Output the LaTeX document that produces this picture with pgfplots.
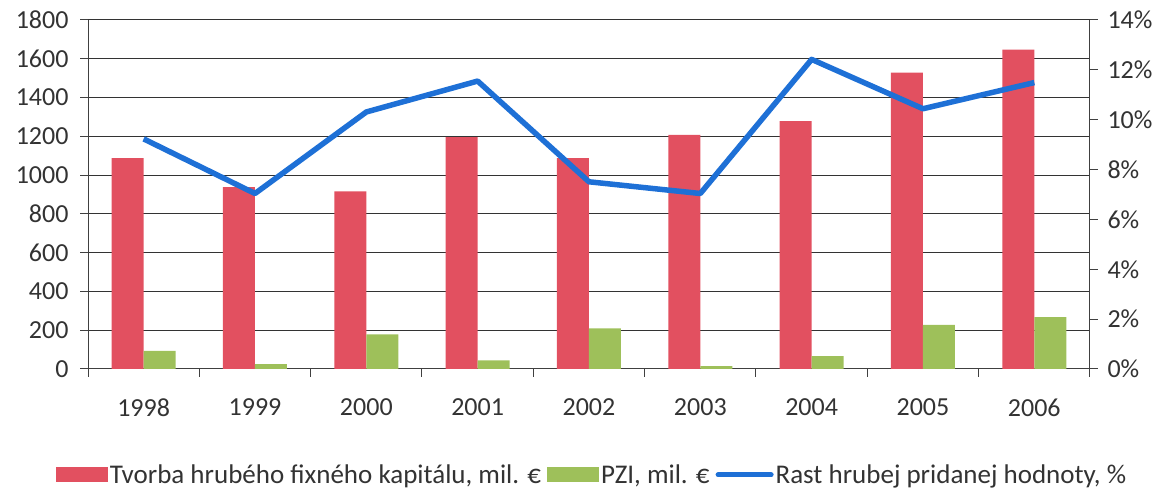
\documentclass[border=0pt]{standalone}
\usepackage{pgfplots}
\pgfplotsset{compat=1.18}
\usepackage{fontspec}
\setmainfont{Carlito}
\definecolor{barred}{RGB}{226,80,96}
\definecolor{bargreen}{RGB}{158,192,90}
\definecolor{lineblue}{RGB}{30,112,214}
\begin{document}
\begin{tikzpicture}
\path[use as bounding box] (0pt,0pt) rectangle (1164pt,492pt);
\begin{axis}[
  at={(88pt,123pt)}, anchor=south west,
  scale only axis, width=1002pt, height=349pt,
  xmin=-0.5, xmax=8.5, ymin=0, ymax=1800,
  ytick={0,200,...,1800},
  xtick={0,...,8},
  xticklabels={1998,1999,2000,2001,2002,2003,2004,2005,2006},
  minor xtick={-0.5,0.5,...,8.5},
  major x tick style={draw=none},
  minor tick length=8pt, major tick length=8pt,
  tick align=outside,
  axis x line*=bottom, axis y line*=left,
  axis line style={black!75, line width=1pt},
  every tick/.style={black!75, line width=1pt},
  ymajorgrids, grid style={black!80, line width=1pt},
  /pgf/number format/1000 sep={},
  /pgf/number format/assume math mode=true,
  tick label style={font=\fontsize{26}{30}\selectfont, text=black!80},
  yticklabel style={xshift=-8pt},
  xticklabel style={yshift=-18pt},
  ybar, bar width=32pt,
  legend style={at={(0.503,-0.303)}, anchor=center, draw=none, legend columns=3,
    font=\fontsize{27}{32}\selectfont, text=black!80,
    /tikz/every even column/.append style={column sep=4pt},
    inner sep=0pt, cells={anchor=west}},
  area legend,
  legend image code/.code={\fill[#1] (0pt,-7.5pt) rectangle (52pt,7.5pt);},
  clip=false,
]
\addplot[fill=barred, draw=none, bar shift=-16pt] coordinates {
 (0,1088) (1,938) (2,916) (3,1196) (4,1088) (5,1208) (6,1278) (7,1528) (8,1647)};
\addlegendentry{Tvorba hrubého fixného kapitálu, mil. €}
\addplot[fill=bargreen, draw=none, bar shift=16pt] coordinates {
 (0,93) (1,25) (2,178) (3,45) (4,210) (5,15) (6,67) (7,228) (8,267)};
\addlegendentry{PZI, mil. €}
\addlegendimage{legend image code/.code={\draw[lineblue, line width=5pt, line cap=round] (3pt,0pt) -- (56pt,0pt);}}
\addlegendentry{Rast hrubej pridanej hodnoty, \%}
\end{axis}
\begin{axis}[
  at={(88pt,123pt)}, anchor=south west,
  scale only axis, width=1002pt, height=349pt,
  xmin=-0.5, xmax=8.5, ymin=0, ymax=14,
  ytick={0,2,...,14},
  axis x line=none, axis y line*=right,
  axis line style={black!75, line width=1pt},
  every tick/.style={black!75, line width=1pt},
  major tick length=8pt, tick align=outside,
  /pgf/number format/assume math mode=true,
  yticklabel={\pgfmathprintnumber{\tick}\%},
  tick label style={font=\fontsize{26}{30}\selectfont, text=black!80},
  yticklabel style={xshift=6pt},
]
\addplot[lineblue, line width=5.5pt, line join=round] coordinates {
 (0,9.23) (1,7.04) (2,10.31) (3,11.55) (4,7.51) (5,7.04) (6,12.42) (7,10.44) (8,11.49)};
\end{axis}
\end{tikzpicture}
\end{document}
